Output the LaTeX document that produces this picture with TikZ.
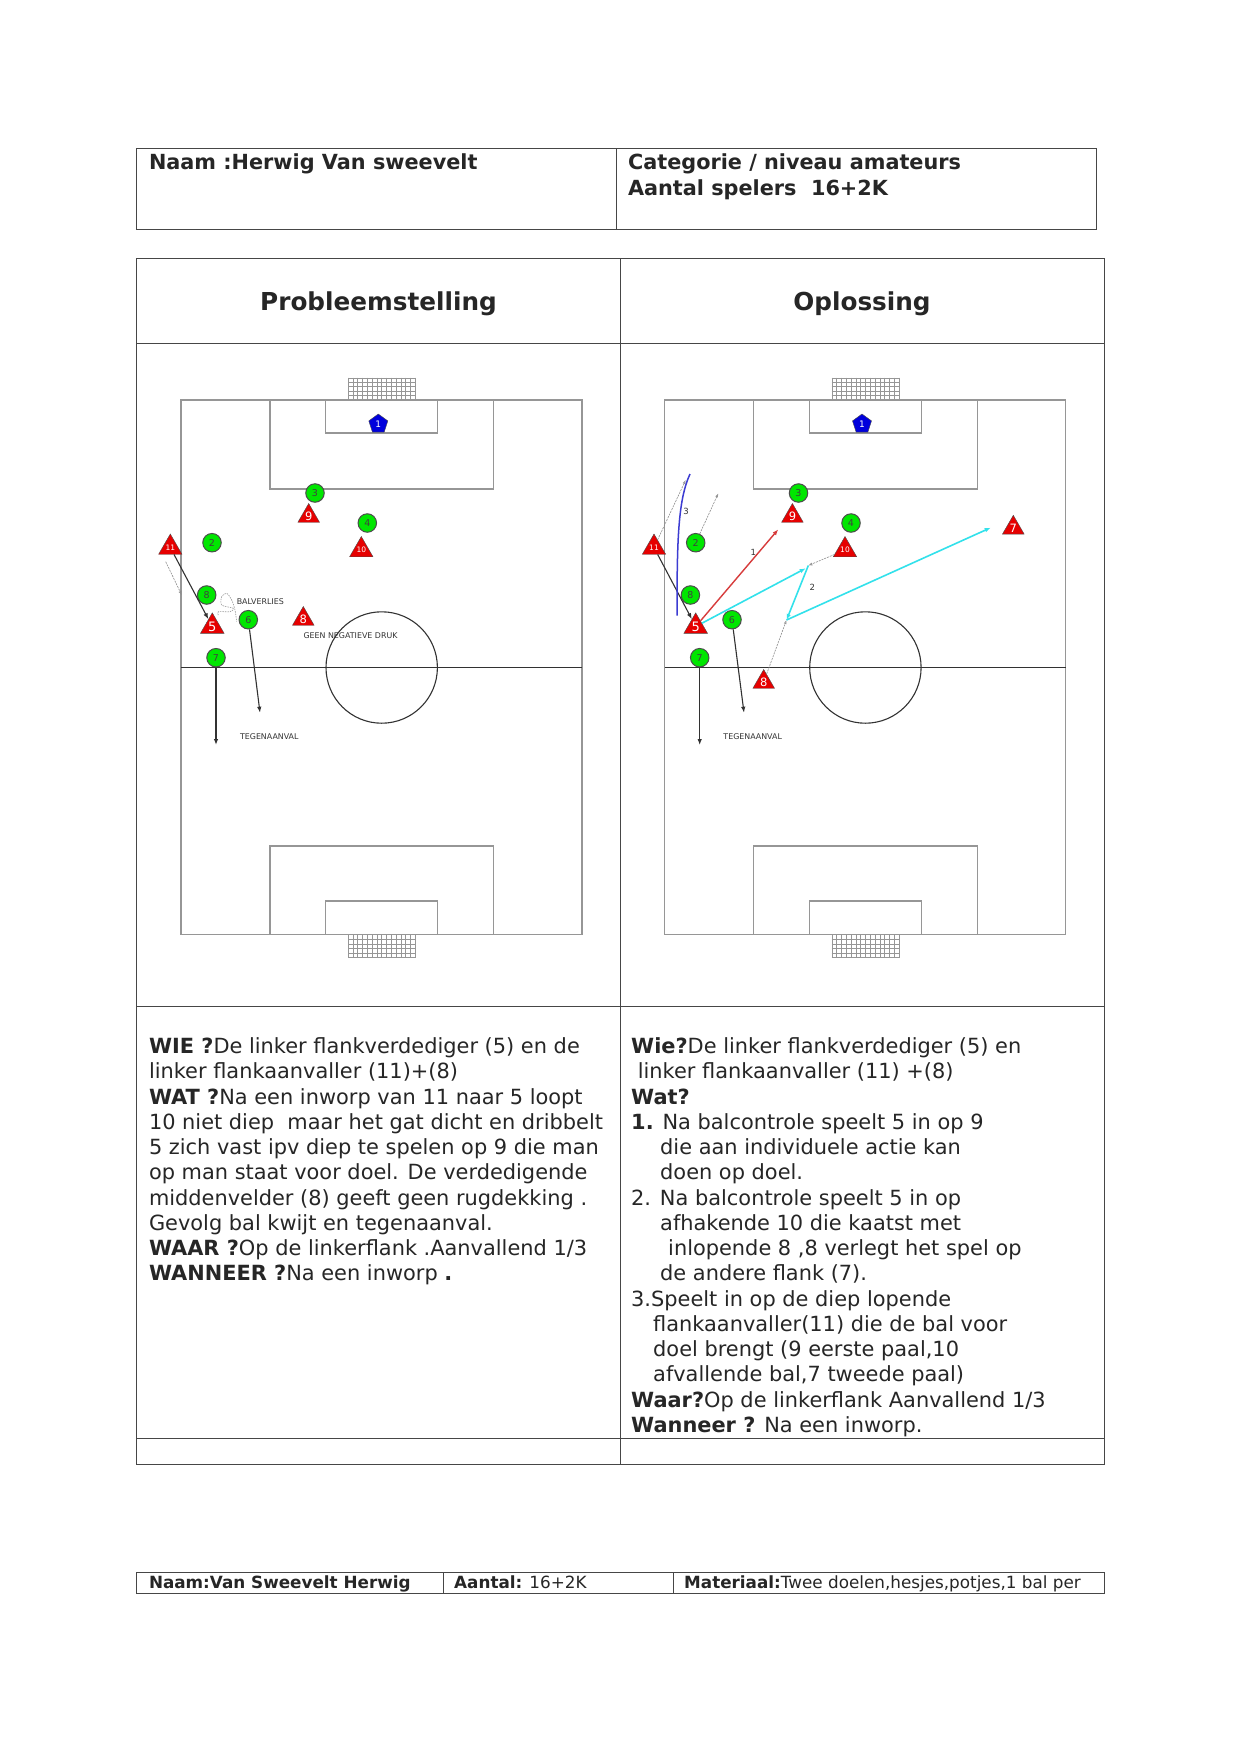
\documentclass[tikz,border=0pt]{standalone}
\usepackage{fontspec}
\setmainfont{DejaVu Sans}
\usetikzlibrary{positioning,arrows.meta,shapes.geometric}
\definecolor{tbLine}{RGB}{70,70,70}
\definecolor{fdLine}{RGB}{150,150,150}
\definecolor{fdDark}{RGB}{50,50,50}
\definecolor{fdGreen}{RGB}{0,230,0}
\definecolor{fdRed}{RGB}{230,0,0}
\definecolor{fdBlue}{RGB}{0,0,220}
\definecolor{fdCyan}{RGB}{50,225,235}
\definecolor{fdShot}{RGB}{60,60,210}
\definecolor{fdPass}{RGB}{215,60,60}
\tikzset{
    base/.style={align=left, inner sep=0pt, anchor=north west, text=black!85},
    cell/.style={draw=tbLine, line width=1pt},
    body/.style={base, font=\fontsize{20.9}{25.25}\selectfont},
    head/.style={base, font=\bfseries\fontsize{20.8}{25.5}\selectfont},
    title/.style={inner sep=0pt, text=black!85, font=\bfseries\fontsize{24.7}{30}\selectfont},
    foot/.style={base, font=\fontsize{16.8}{20}\selectfont},
    fieldline/.style={draw=fdLine, line width=1.1pt},
    midline/.style={draw=fdDark, line width=1.1pt},
    net/.style={draw=fdLine, line width=0.4pt},
    keeper/.style={regular polygon, regular polygon sides=5, draw=black!70, fill=fdBlue, text=white,
                   inner sep=0pt, minimum size=20pt, font=\fontsize{9}{9}\selectfont},
    home/.style={circle, draw=black!70, fill=fdGreen, text=black!75, line width=1pt,
                 inner sep=0pt, minimum size=18.5pt, font=\fontsize{9.5}{9.5}\selectfont},
    away/.style={regular polygon, regular polygon sides=3, draw=black!70, fill=fdRed, text=white,
                 inner sep=0pt, minimum size=25pt, font=\fontsize{11.5}{11.5}\selectfont},
    small/.style={font=\fontsize{7.5}{7.5}\selectfont},
    note/.style={inner sep=0pt, text=black!80, font=\fontsize{7.9}{7.9}\selectfont},
    run/.style={-{LaTeX[length=6pt,width=4.5pt]}, draw=fdDark, line width=1.1pt},
    ghost/.style={-{LaTeX[length=4pt,width=3pt,open]}, draw=black!45, dashed, line width=0.6pt, dash pattern=on 2pt off 1pt},
    pass/.style={-{LaTeX[length=6pt,width=4.5pt]}, draw=fdCyan, line width=1.6pt},
    shot/.style={-{LaTeX[length=6pt,width=4.5pt]}, draw=fdPass, line width=1.4pt},
}
\begin{document}
\begin{tikzpicture}[x=1pt,y=-1pt]
  \path[use as bounding box, fill=white] (0,0) rectangle (1241,1754);

  % Top table
  \draw[cell] (136.5,148) rectangle (616.5,229);
  \draw[cell] (616.5,148) rectangle (1096.5,229);
  \node[head] (naam) at (148.8,153.5) {Naam :Herwig Van sweevelt};
  \node[head] (categorie) at (627.8,153.5) {Categorie / niveau amateurs\\Aantal spelers\ \ 16+2K};

  % Main table
  \draw[cell] (136.5,258.5) rectangle (1104.5,1464);
  \draw[cell] (620,258.5) -- (620,1464);
  \draw[cell] (136.5,343.5) -- (1104.5,343.5);
  \draw[cell] (136.5,1006.5) -- (1104.5,1006.5);
  \draw[cell] (136.5,1438) -- (1104.5,1438);
  \node[title] (probleem) at (378.5,303.5) {Probleemstelling};
  \node[title] (oplossing) at (862,303.5) {Oplossing};

  % Both pitches
  \foreach \fx in {0,483.7} {
    \begin{scope}[xshift=\fx pt]
      \draw[fieldline] (181,400) rectangle (582,934.5);
      \draw[fieldline] (270,400) rectangle (493.5,489);
      \draw[fieldline] (325.7,400) rectangle (437.7,433);
      \draw[fieldline] (270,846) rectangle (493.5,934.5);
      \draw[fieldline] (325.7,901) rectangle (437.7,934.5);
      \draw[midline] (181,667.5) -- (582,667.5);
      \draw[midline] (381.7,667.5) circle[radius=55.7];
      % Nets
      \foreach \gx in {0,...,14} {
        \draw[net] (348+4.8*\gx,377.7) -- (348+4.8*\gx,400);
        \draw[net] (348+4.8*\gx,934.5) -- (348+4.8*\gx,957.5);
      }
      \foreach \gy in {0,...,5} {
        \draw[net] (348,377.7+4.46*\gy) -- (415.2,377.7+4.46*\gy);
        \draw[net] (348,934.5+4.6*\gy) -- (415.2,934.5+4.6*\gy);
      }
    \end{scope}
  }

  % Players problem
  \node[keeper] (pk1) at (378.3,424) {1};
  \node[home] (pg3) at (315,493) {3};
  \node[home] (pg4) at (367.3,523) {4};
  \node[home] (pg2) at (212,542.7) {2};
  \node[home] (pg8) at (206.7,595) {8};
  \node[home] (pg6) at (248.3,619.7) {6};
  \node[home] (pg7) at (216,657.7) {7};
  \node[away] (pr9) at (308.7,516) {9};
  \node[away, small] (pr10) at (361.3,550) {10};
  \node[away, small] (pr11) at (170.3,547.5) {11};
  \node[away, font=\fontsize{13}{13}\selectfont] (pr5) at (212.3,626.5) {5};
  \node[away] (pr8) at (303.3,619) {8};

  % Moves problem
  \coordinate (pe6) at (260,712.7);
  \coordinate (pe7) at (216,745);
  \coordinate (pd1) at (165.7,561.7);
  \coordinate (pd2) at (181.7,595);
  \draw[run] (pr11) -- (pr5);
  \draw[run] (pg6) -- (pe6);
  \draw[run] (pg7) -- (pe7);
  \draw[ghost] (pd1) -- (pd2);
  \draw[black!40, dashed, line width=0.6pt, dash pattern=on 1.5pt off 1pt]
    plot[smooth] coordinates {(218.3,615) (218.3,611.7) (230,611.7) (233.3,608.3) (221.7,605)
      (221.7,596.7) (226.7,593.3) (231.7,600) (235,610) (236.7,621.7)};
  \node[note] (balverlies) at (260.3,601.3) {BALVERLIES};
  \node[note] (druk) at (350.5,635.7) {GEEN NEGATIEVE DRUK};
  \node[note] (tegen1) at (269.3,737) {TEGENAANVAL};

  % Players solution
  \node[keeper] (ok1) at (862,424) {1};
  \node[home] (og3) at (798.5,493) {3};
  \node[home] (og4) at (851,523) {4};
  \node[home] (og2) at (695.7,542.7) {2};
  \node[home] (og8) at (690.4,595) {8};
  \node[home] (og6) at (732,619.7) {6};
  \node[home] (og7) at (699.7,657.7) {7};
  \node[away] (or9) at (792.4,516) {9};
  \node[away, small] (or10) at (845,550) {10};
  \node[away, small] (or11) at (654,547.5) {11};
  \node[away, font=\fontsize{13}{13}\selectfont] (or5) at (695.7,626.5) {5};
  \node[away] (or8) at (763.7,682) {8};
  \node[away] (or7) at (1013.3,527.8) {7};

  % Moves solution
  \coordinate (oe6) at (744,712.7);
  \coordinate (oe7) at (699.7,745);
  \coordinate (oa) at (808.3,565.5);
  \coordinate (oa2) at (805.7,568.3);
  \coordinate (ob) at (786.5,620);
  \coordinate (oc) at (990.7,527.7);
  \coordinate (o9) at (778.3,529.3);
  \coordinate (oh) at (685.7,480);
  \coordinate (oj) at (718.3,493.3);
  \coordinate (os) at (677,615.7);
  \coordinate (ot) at (690,474);
  \draw[run] (or11) -- (or5);
  \draw[run] (og6) -- (oe6);
  \draw[run] (og7) -- (oe7);
  \draw[ghost] (or10) -- (oa);
  \draw[ghost] (or8) -- (ob);
  \draw[ghost] (or11) -- (oh);
  \draw[ghost] (og2) -- (oj);
  \draw[fdShot, line width=1.5pt] (os) .. controls (677,540) and (678,500) .. (ot);
  \draw[shot] (or5) -- (o9);
  \draw[pass] (or5) -- (oa2);
  \draw[pass] (oa) -- (ob);
  \draw[pass] (ob) -- (oc);
  \node[note, font=\fontsize{8.5}{8.5}\selectfont] (lab1) at (753.3,552.7) {1};
  \node[note, font=\fontsize{8.5}{8.5}\selectfont] (lab2) at (812.3,587) {2};
  \node[note, font=\fontsize{8.5}{8.5}\selectfont] (lab3) at (686,511.7) {3};
  \node[note] (tegen2) at (752.7,737) {TEGENAANVAL};

  % Text left
  \node[body] (wie) at (148.8,1037.5) {\textbf{WIE ?}De linker flankverdediger (5) en de\\
    linker flankaanvaller (11)+(8)\\
    \textbf{WAT ?}Na een inworp van 11 naar 5 loopt\\
    10 niet diep\ \ maar het gat dicht en dribbelt\\
    5 zich vast ipv diep te spelen op 9 die man\\
    op man staat voor doel. De verdedigende\\
    middenvelder (8) geeft geen rugdekking .\\
    Gevolg bal kwijt en tegenaanval.\\
    \textbf{WAAR ?}Op de linkerflank .Aanvallend 1/3\\
    \textbf{WANNEER ?}Na een inworp \textbf{.}};

  % Text right
  \node[body] (wie2) at (631,1037.5) {\textbf{Wie?}De linker flankverdediger (5) en\\
    \ linker flankaanvaller (11) +(8)\\
    \textbf{Wat?}\\
    \textbf{1.} Na balcontrole speelt 5 in op 9\\
    \hspace*{29pt}die aan individuele actie kan\\
    \hspace*{29pt}doen op doel.\\
    2. Na balcontrole speelt 5 in op\\
    \hspace*{29pt}afhakende 10 die kaatst met\\
    \hspace*{37pt}inlopende 8 ,8 verlegt het spel op\\
    \hspace*{29pt}de andere flank (7).\\
    3.Speelt in op de diep lopende\\
    \hspace*{22pt}flankaanvaller(11) die de bal voor\\
    \hspace*{22pt}doel brengt (9 eerste paal,10\\
    \hspace*{22pt}afvallende bal,7 tweede paal)\\
    \textbf{Waar?}Op de linkerflank Aanvallend 1/3\\
    \textbf{Wanneer ?} Na een inworp.};

  % Footer
  \draw[cell] (136.5,1572) rectangle (1104.5,1593);
  \draw[cell] (443,1572) -- (443,1593);
  \draw[cell] (673,1572) -- (673,1593);
  \node[foot] (fnaam) at (148.8,1576) {\textbf{Naam:Van Sweevelt Herwig}};
  \node[foot] (faantal) at (454,1576) {\textbf{Aantal:} 16+2K};
  \node[foot] (fmat) at (684,1576) {\textbf{Materiaal:}Twee doelen,hesjes,potjes,1 bal per};
\end{tikzpicture}
\end{document}
